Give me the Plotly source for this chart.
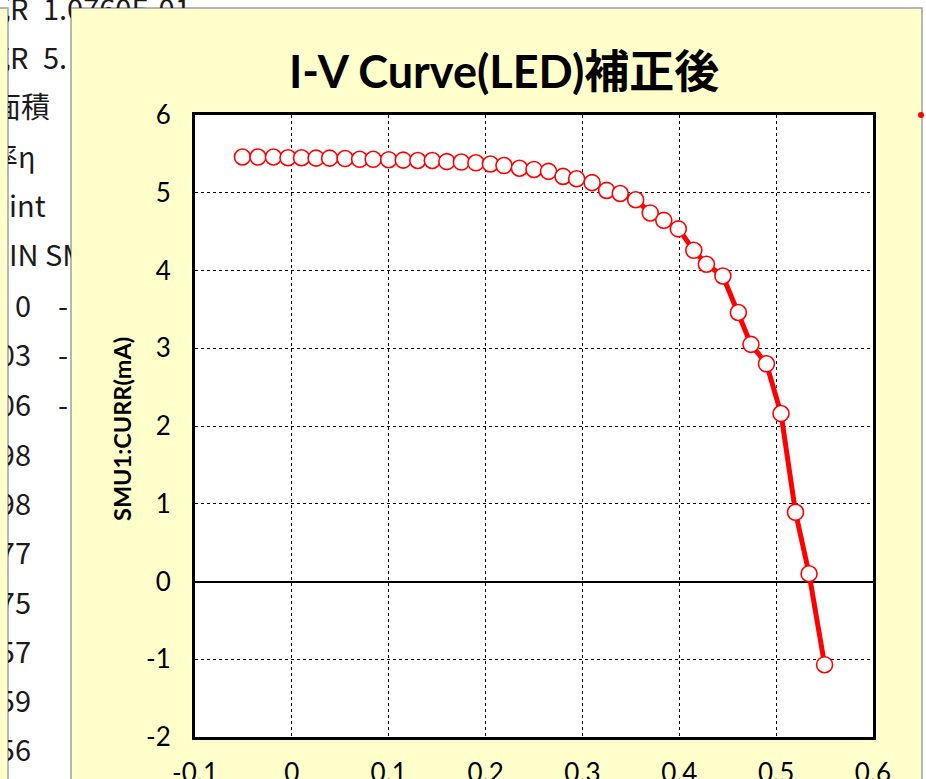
import plotly.graph_objects as go

W, H = 926, 779

# ---- data ----
voltage = [-0.051, -0.035, -0.019, -0.004, 0.010, 0.025, 0.039, 0.055,
           0.070, 0.084, 0.100, 0.115, 0.130, 0.145, 0.160, 0.175,
           0.190, 0.205, 0.219, 0.235, 0.250, 0.265, 0.280, 0.294,
           0.310, 0.325, 0.339, 0.355, 0.370, 0.384, 0.399, 0.415,
           0.428, 0.445, 0.461, 0.474, 0.490, 0.505, 0.520, 0.534, 0.550]
current = [5.46, 5.46, 5.46, 5.45, 5.45, 5.445, 5.445, 5.44,
           5.43, 5.43, 5.425, 5.42, 5.415, 5.415, 5.40, 5.395,
           5.385, 5.37, 5.35, 5.315, 5.30, 5.275, 5.21, 5.18,
           5.13, 5.03, 4.99, 4.91, 4.74, 4.645, 4.535, 4.26,
           4.08, 3.93, 3.46, 3.05, 2.80, 2.16, 0.89, 0.10, -1.07]

x_ticks = [-0.1, 0, 0.1, 0.2, 0.3, 0.4, 0.5, 0.6]
x_ticktext = ["-0.1", "0", "0.1", "0.2", "0.3", "0.4", "0.5", "0.6"]
y_ticks = [-2, -1, 0, 1, 2, 3, 4, 5, 6]
y_ticktext = ["-2", "-1", "0", "1", "2", "3", "4", "5", "6"]

title_text = "I-V Curve(LED)補正後"
ytitle_text = "SMU1:CURR(mA)"

# spreadsheet cells partly hidden behind the chart
label_cells = ["抗R\u20021.0760E-01", "抗R\u20025.", "面積", "効率η", "int", "IN SMU1"]
number_cells = ["0", "0.03", "0.06", "0.098", "0.098", "0.077", "0.075", "0.057", "0.059", "0.056"]
dash_cells = ["-", "-", "-"]

# pixel helpers
def px(x):
    return x / W

def py(y):
    return 1 - y / H

FONT_CAL = "Lato, 'Liberation Sans', 'Noto Sans CJK JP', sans-serif"
FONT_CELL = "'Noto Sans CJK JP', 'Noto Sans', sans-serif"

fig = go.Figure()

fig.add_trace(go.Scatter(
    x=voltage, y=current, mode="lines+markers",
    line=dict(color="#FF0000", width=5),
    marker=dict(symbol="circle", size=16, color="white",
                line=dict(color="#FF0000", width=1.6)),
    xaxis="x", yaxis="y", showlegend=False, hoverinfo="skip",
))

# spreadsheet text (clipped by its own subplot)
label_rows = [13, 62, 111, 161, 210, 259]
label_x = [-19, -19, -8, -40, 9, 9]
number_rows = [310, 359, 409, 459, 508, 557, 607, 656, 705, 754]
dash_rows = [310, 359, 409]

cell_font = dict(family=FONT_CELL, size=29, color="#1a1a1a")

fig.add_trace(go.Scatter(
    x=label_x, y=label_rows, text=label_cells, mode="text",
    textposition="middle right", textfont=cell_font,
    xaxis="x2", yaxis="y2", showlegend=False, hoverinfo="skip", cliponaxis=True,
))
fig.add_trace(go.Scatter(
    x=[31] * len(number_cells), y=number_rows, text=number_cells, mode="text",
    textposition="middle left", textfont=cell_font,
    xaxis="x2", yaxis="y2", showlegend=False, hoverinfo="skip", cliponaxis=True,
))
fig.add_trace(go.Scatter(
    x=[58] * len(dash_cells), y=dash_rows, text=dash_cells, mode="text",
    textposition="middle right", textfont=cell_font,
    xaxis="x2", yaxis="y2", showlegend=False, hoverinfo="skip", cliponaxis=True,
))
# top strip above the chart panel
fig.add_trace(go.Scatter(
    x=[label_x[0]], y=[label_rows[0]], text=[label_cells[0]], mode="text",
    textposition="middle right", textfont=cell_font,
    xaxis="x3", yaxis="y3", showlegend=False, hoverinfo="skip", cliponaxis=True,
))

axis_common = dict(
    showgrid=True, griddash="dot", gridcolor="black", gridwidth=1,
    showline=True, linecolor="black", linewidth=3, mirror=True,
    ticks="", tickfont=dict(family=FONT_CAL, size=26, color="black"),
    fixedrange=True, automargin=False,
)
hidden_axis = dict(visible=False, fixedrange=True, automargin=False)

fig.update_layout(
    width=W, height=H,
    margin=dict(l=0, r=0, t=0, b=0, pad=0, autoexpand=False),
    paper_bgcolor="white", plot_bgcolor="white",
    showlegend=False,
    xaxis=dict(domain=[px(195), px(873)], range=[-0.1, 0.6],
               tickvals=x_ticks, ticktext=x_ticktext, zeroline=False,
               ticklabelstandoff=11, anchor="y", **axis_common),
    yaxis=dict(domain=[py(737), py(115)], range=[-2, 6],
               tickvals=y_ticks, ticktext=y_ticktext,
               zeroline=True, zerolinecolor="black", zerolinewidth=1.5,
               ticklabelstandoff=16, anchor="x", **axis_common),
    xaxis2=dict(domain=[px(8), px(71)], range=[8, 71], anchor="y2", **hidden_axis),
    yaxis2=dict(domain=[0, 1], range=[H, 0], anchor="x2", **hidden_axis),
    xaxis3=dict(domain=[px(71), px(922)], range=[71, 922], anchor="y3", **hidden_axis),
    yaxis3=dict(domain=[py(8), 1], range=[8, 0], anchor="x3", **hidden_axis),
)

shapes = [
    # chart panel
    dict(type="rect", xref="paper", yref="paper",
         x0=px(71), x1=px(922), y0=py(8), y1=-0.05,
         fillcolor="#FFFFCC", line=dict(color="#A0A0A0", width=1.5), layer="below"),
    # neighbouring panel strip on the far left
    dict(type="rect", xref="paper", yref="paper",
         x0=-0.02, x1=px(8), y0=py(8), y1=-0.05,
         fillcolor="#FFFFCC", line=dict(color="#A0A0A0", width=1.5), layer="below"),
    # plot area
    dict(type="rect", xref="paper", yref="paper",
         x0=px(195), x1=px(873), y0=py(737), y1=py(115),
         fillcolor="white", line=dict(width=0), layer="below"),
    # cut-off legend marker at right edge
    dict(type="circle", xref="paper", yref="paper",
         x0=px(918), x1=px(924), y0=py(118), y1=py(112),
         fillcolor="#FF0000", line=dict(width=0), layer="above"),
]
fig.update_layout(shapes=shapes)

fig.add_annotation(
    text="<b>" + title_text + "</b>", xref="paper", yref="paper",
    x=px(504), y=py(71), xanchor="center", yanchor="middle", showarrow=False,
    font=dict(family=FONT_CAL, size=45, color="black"),
)
fig.add_annotation(
    text="<b>" + ytitle_text + "</b>", xref="paper", yref="paper",
    x=px(122), y=py(429), xanchor="center", yanchor="middle", showarrow=False,
    textangle=-90, font=dict(family=FONT_CAL, size=23.5, color="black"),
)

fig.write_html(
    "out.html",
    config={"displayModeBar": False},
    post_script="document.body.style.margin='0';document.body.style.overflow='hidden';",
)
